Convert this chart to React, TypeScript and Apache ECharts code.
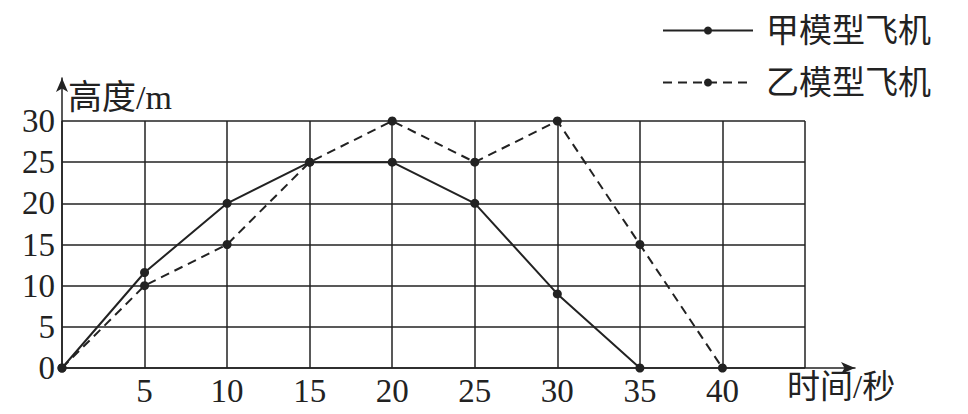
import { useEffect, useRef } from "react";
import * as echarts from "echarts";

// 甲 / 乙 model planes: time (s) -> height (m)
const jiaTimes = [0, 5, 10, 15, 20, 25, 30, 35];
const jiaHeights = [0, 11.6, 20, 25, 25, 20, 9, 0];
const yiTimes = [0, 5, 10, 15, 20, 25, 30, 35, 40];
const yiHeights = [0, 10, 15, 25, 30, 25, 30, 15, 0];
const seriesNames = ["甲模型飞机", "乙模型飞机"];
const xLabelTicks = [5, 10, 15, 20, 25, 30, 35, 40];

const INK = "#222";
const FONT = "'Liberation Serif', 'Noto Sans CJK SC', serif";

const App = () => {
  const chartRef = useRef(null);

  useEffect(() => {
    document.body.style.margin = "0";
    const chart = echarts.init(chartRef.current, null, { renderer: "svg" });

    const pairs = (xs: number[], ys: number[]) => xs.map((x, i) => [x, ys[i]]);

    const options = {
      animation: false,
      backgroundColor: "#fff",
      legend: {
        orient: "vertical",
        right: 32,
        top: 9,
        itemWidth: 90,
        itemHeight: 10,
        itemGap: 19,
        textStyle: {
          fontSize: 33,
          color: INK,
          fontFamily: FONT,
          padding: [0, 0, 0, 8],
        },
        data: seriesNames,
      },
      grid: [
        { left: 62, right: 163, top: 121, bottom: 46 },
        { left: 62, right: 113, top: 78, bottom: 46 },
      ],
      xAxis: [
        {
          type: "value",
          gridIndex: 0,
          min: 0,
          max: 45,
          interval: 5,
          axisLine: { show: false },
          axisTick: { show: false },
          splitLine: { show: true, lineStyle: { color: INK, width: 1.5 } },
          axisLabel: {
            fontSize: 33,
            color: INK,
            fontFamily: FONT,
            margin: 6,
            formatter: (v: number) => (xLabelTicks.includes(v) ? String(v) : ""),
          },
        },
        {
          type: "value",
          gridIndex: 1,
          min: 0,
          max: 1,
          axisLine: {
            show: true,
            symbol: ["none", "arrow"],
            symbolSize: [9, 14],
            lineStyle: { color: INK, width: 1.5 },
          },
          axisTick: { show: false },
          axisLabel: { show: false },
          splitLine: { show: false },
        },
      ],
      yAxis: [
        {
          type: "value",
          gridIndex: 0,
          min: 0,
          max: 30,
          interval: 5,
          axisLine: { show: false },
          axisTick: { show: false },
          splitLine: { show: true, lineStyle: { color: INK, width: 1.5 } },
          axisLabel: { fontSize: 33, color: INK, fontFamily: FONT, margin: 7 },
        },
        {
          type: "value",
          gridIndex: 1,
          min: 0,
          max: 1,
          axisLine: {
            show: true,
            symbol: ["none", "arrow"],
            symbolSize: [9, 14],
            lineStyle: { color: INK, width: 1.5 },
          },
          axisTick: { show: false },
          axisLabel: { show: false },
          splitLine: { show: false },
        },
      ],
      graphic: [
        {
          type: "text",
          left: 68,
          top: 80,
          style: { text: "高度/m", fontSize: 34, fill: INK, fontFamily: FONT },
        },
        {
          type: "text",
          left: 787,
          top: 370,
          style: { text: "时间/秒", fontSize: 33, fill: INK, fontFamily: FONT },
        },
      ],
      series: [
        {
          name: seriesNames[0],
          type: "line",
          xAxisIndex: 0,
          yAxisIndex: 0,
          data: pairs(jiaTimes, jiaHeights),
          symbol: "circle",
          symbolSize: 9,
          itemStyle: { color: INK },
          lineStyle: { color: INK, width: 2 },
        },
        {
          name: seriesNames[1],
          type: "line",
          xAxisIndex: 0,
          yAxisIndex: 0,
          data: pairs(yiTimes, yiHeights),
          symbol: "circle",
          symbolSize: 9,
          itemStyle: { color: INK },
          lineStyle: { color: INK, width: 2, type: [9, 6] },
        },
      ],
    };

    chart.setOption(options);

    return () => {
      chart.dispose();
    };
  }, []);

  return <div ref={chartRef} style={{ width: "968px", height: "414px" }} />;
};

export default App;
